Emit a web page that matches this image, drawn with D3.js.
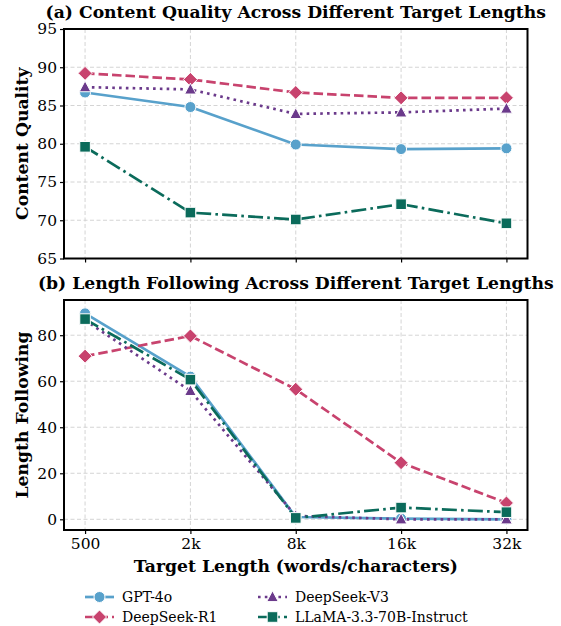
<!DOCTYPE html>
<html>
<head>
<meta charset="utf-8">
<script src="https://cdn.jsdelivr.net/npm/d3@7"></script>
<style>
  html, body { margin: 0; padding: 0; background: #fff; }
  svg { display: block; }
  text { font-family: "DejaVu Serif", serif; fill: #000; }
</style>
</head>
<body>
<svg id="chart" width="561" height="626"></svg>
<script>
// ---- data ----
const categories = ["500", "2k", "8k", "16k", "32k"];
const models = ["GPT-4o", "DeepSeek-R1", "DeepSeek-V3", "LLaMA-3.3-70B-Instruct"];
const qualityGPT4o = [86.7, 84.8, 79.9, 79.3, 79.4];
const qualityR1 = [89.2, 88.4, 86.7, 86.0, 86.0];
const qualityV3 = [87.4, 87.1, 83.9, 84.1, 84.6];
const qualityLlama = [79.6, 71.0, 70.1, 72.1, 69.6];
const lengthGPT4o = [89.5, 62.0, 1.0, 0.3, 0.0];
const lengthR1 = [70.9, 79.7, 56.5, 24.6, 7.1];
const lengthV3 = [86.5, 55.8, 1.5, 0.0, 0.0];
const lengthLlama = [87.0, 60.7, 0.6, 5.1, 3.1];
const qualityTicks = [65, 70, 75, 80, 85, 90, 95];
const lengthTicks = [0, 20, 40, 60, 80];

// ---- styles ----
const styles = [
  { color: "#58a1cb", dash: null, marker: "circle" },
  { color: "#c8436e", dash: "9.5,4", marker: "diamond" },
  { color: "#6b3a8b", dash: "2.6,4.2", marker: "triangle" },
  { color: "#0b6b5b", dash: "15,4.2,2.6,4.2", marker: "square" }
];
const LW = 2.7;
const BOLD_SIZE = 17.2;
const TICK_SIZE = 15.5;

const svg = d3.select("#chart");
svg.append("rect").attr("width", 561).attr("height", 626).attr("fill", "#fff");

const left = 64, right = 527.5;
const x = d3.scaleLinear().domain([-0.2, 4.2]).range([left, right]);

function markerPath(type) {
  if (type === "circle") return d3.symbol(d3.symbolCircle, 95)();
  if (type === "diamond") return "M0,-7L7,0L0,7L-7,0Z";
  if (type === "triangle") return "M0,-6.2L5.8,4.6L-5.8,4.6Z";
  return "M-5.3,-5.3H5.3V5.3H-5.3Z";
}

function panel(opts) {
  const { top, bottom, domain, ticks, series, title, titleY, ylabel, showX } = opts;
  const y = d3.scaleLinear().domain(domain).range([bottom, top]);
  const g = svg.append("g");

  // grid
  g.append("g").selectAll("line").data(categories).join("line")
    .attr("x1", (d, i) => x(i)).attr("x2", (d, i) => x(i))
    .attr("y1", top).attr("y2", bottom)
    .attr("stroke", "#cfcfcf").attr("stroke-width", 0.9).attr("stroke-dasharray", "4,2.5");
  g.append("g").selectAll("line").data(ticks).join("line")
    .attr("x1", left).attr("x2", right)
    .attr("y1", d => y(d)).attr("y2", d => y(d))
    .attr("stroke", "#cfcfcf").attr("stroke-width", 0.9).attr("stroke-dasharray", "4,2.5");

  // axes
  const yAxis = d3.axisLeft(y).tickValues(ticks).tickSize(4).tickPadding(3).tickFormat(d3.format("d"));
  const ya = g.append("g").attr("transform", `translate(${left},0)`).call(yAxis);
  ya.select(".domain").remove();
  ya.selectAll("line").attr("stroke", "#000").attr("stroke-width", 1.2);
  ya.selectAll("text").attr("font-family", "DejaVu Serif").attr("font-size", TICK_SIZE).attr("fill", "#000");

  const xAxis = d3.axisBottom(x).tickValues(d3.range(categories.length)).tickSize(4).tickPadding(3.5)
    .tickFormat(i => showX ? categories[i] : "");
  const xa = g.append("g").attr("transform", `translate(0,${bottom})`).call(xAxis);
  xa.select(".domain").remove();
  xa.selectAll("line").attr("stroke", "#000").attr("stroke-width", 1.2);
  xa.selectAll("text").attr("font-family", "DejaVu Serif").attr("font-size", TICK_SIZE).attr("fill", "#000");

  // lines
  const line = d3.line().x((d, i) => x(i)).y(d => y(d));
  series.forEach((vals, k) => {
    const st = styles[k];
    g.append("path").datum(vals).attr("d", line)
      .attr("fill", "none").attr("stroke", st.color).attr("stroke-width", LW)
      .attr("stroke-dasharray", st.dash).attr("stroke-linejoin", "round");
    g.append("g").selectAll("path").data(vals).join("path")
      .attr("transform", (d, i) => `translate(${x(i)},${y(d)})`)
      .attr("d", markerPath(st.marker))
      .attr("fill", st.color).attr("stroke", "#fff").attr("stroke-width", 1);
  });

  // frame
  g.append("rect").attr("x", left).attr("y", top).attr("width", right - left).attr("height", bottom - top)
    .attr("fill", "none").attr("stroke", "#000").attr("stroke-width", 2);

  // title
  svg.append("text").attr("x", (left + right) / 2).attr("y", titleY)
    .attr("text-anchor", "middle").attr("font-weight", "bold").attr("font-size", BOLD_SIZE).text(title);
  // y label
  svg.append("text").attr("transform", `translate(28,${(top + bottom) / 2}) rotate(-90)`)
    .attr("text-anchor", "middle").attr("font-weight", "bold").attr("font-size", BOLD_SIZE).text(ylabel);
}

panel({
  top: 29, bottom: 258.5, domain: [65, 95], ticks: qualityTicks,
  series: [qualityGPT4o, qualityR1, qualityV3, qualityLlama],
  title: "(a) Content Quality Across Different Target Lengths", titleY: 18,
  ylabel: "Content Quality", showX: false
});
panel({
  top: 300, bottom: 530, domain: [-4.65, 95.3], ticks: lengthTicks,
  series: [lengthGPT4o, lengthR1, lengthV3, lengthLlama],
  title: "(b) Length Following Across Different Target Lengths", titleY: 288.5,
  ylabel: "Length Following", showX: true
});

// x label
svg.append("text").attr("x", (left + right) / 2).attr("y", 571.5)
  .attr("text-anchor", "middle").attr("font-weight", "bold").attr("font-size", BOLD_SIZE)
  .text("Target Length (words/characters)");

// legend
const legendPos = [[85, 597], [85, 617], [258, 597], [258, 617]];
const lg = svg.append("g");
models.forEach((m, k) => {
  const st = styles[k];
  const [lx, ly] = legendPos[k];
  const item = lg.append("g").attr("transform", `translate(${lx},${ly})`);
  item.append("line").attr("x1", 0).attr("x2", 29).attr("y1", 0).attr("y2", 0)
    .attr("stroke", st.color).attr("stroke-width", LW).attr("stroke-dasharray", st.dash);
  item.append("path").attr("transform", "translate(14.5,0)").attr("d", markerPath(st.marker))
    .attr("fill", st.color).attr("stroke", "#fff").attr("stroke-width", 1);
  item.append("text").attr("x", 37).attr("y", 0).attr("dy", "0.35em")
    .attr("font-size", 14).text(m);
});
</script>
</body>
</html>
